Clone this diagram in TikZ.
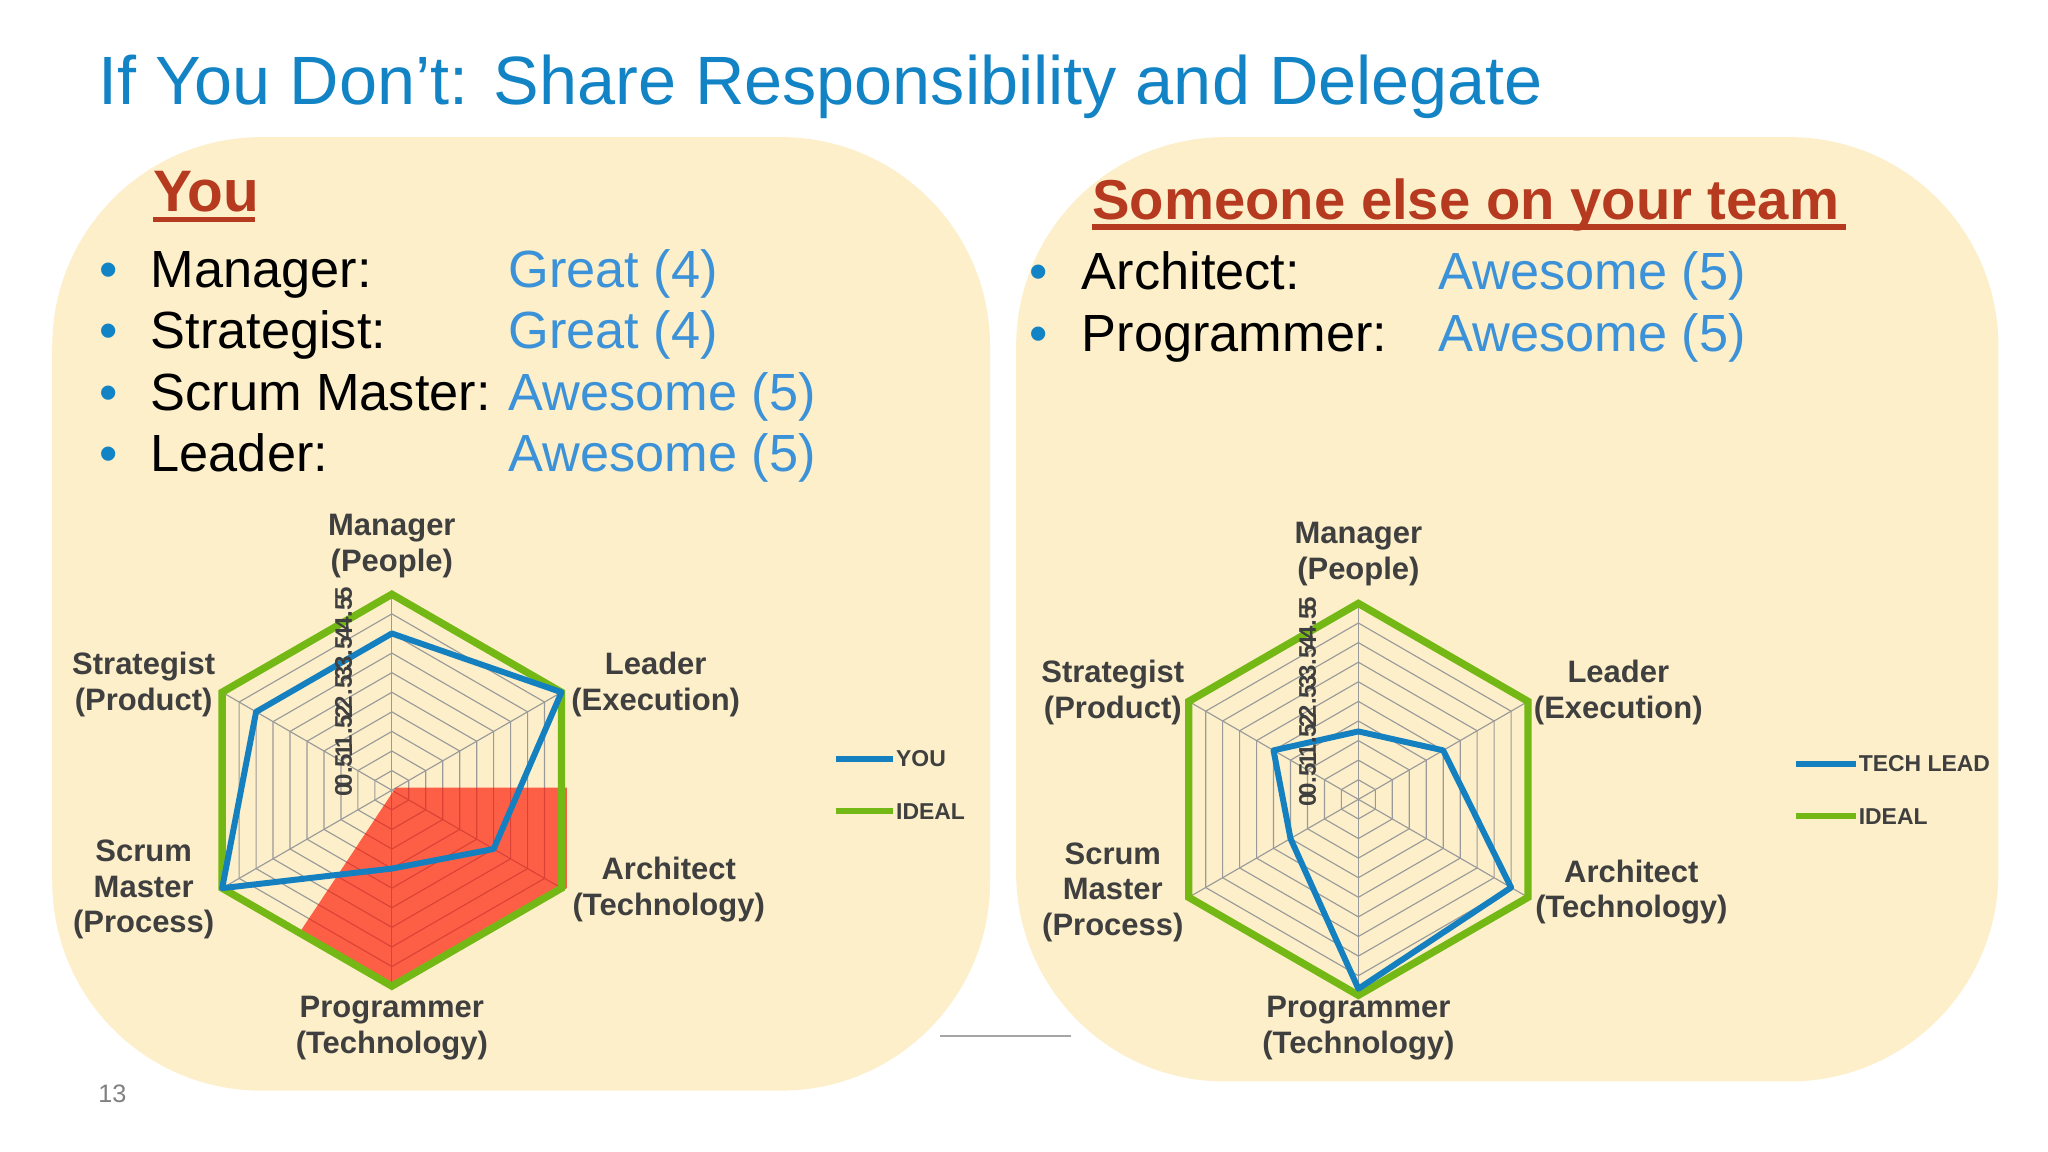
\documentclass[tikz,border=0pt]{standalone}
\usepackage{fontspec}
\setmainfont{Liberation Sans}
\begin{document}
\begin{tikzpicture}[x=0.02cm,y=-0.02cm,
  bul/.style={anchor=base west,font=\fontsize{22.8}{26}\selectfont},
  val/.style={anchor=base west,font=\fontsize{22.8}{26}\selectfont,text=valc},
  dot/.style={anchor=base west,font=\fontsize{22.8}{26}\selectfont,text=titlec},
  lab/.style={font=\fontsize{13.5}{15.5}\selectfont\bfseries,text=labc,align=center},
  tick/.style={font=\fontsize{10.5}{10.5}\selectfont\bfseries,rotate=90,text=labc,inner sep=0pt},
  grid/.style={draw=gridc,line width=0.5pt},
  ideal/.style={draw=idealc,line width=3.2pt,line join=miter},
  actual/.style={draw=blc,line width=2.6pt,line join=round},
  leg/.style={anchor=west,font=\fontsize{10}{10}\selectfont\bfseries,text=labc,inner sep=1pt}]
\definecolor{panelc}{HTML}{FCEFC9}
\definecolor{titlec}{HTML}{1283C4}
\definecolor{valc}{HTML}{3C92D8}
\definecolor{headc}{HTML}{B63A1F}
\definecolor{labc}{HTML}{3F3F3F}
\definecolor{gridc}{HTML}{9A9A9A}
\definecolor{idealc}{HTML}{74B816}
\definecolor{blc}{HTML}{1480C0}
\useasboundingbox (0,0) rectangle (1568,882);
\fill[white] (0,0) rectangle (1568,882);
\node[anchor=base west,inner sep=0pt,text=titlec,font=\fontsize{29.8}{33}\selectfont] (title) at (75,80) {If You Don’t: Share Responsibility and Delegate};
\draw[gray!70,line width=1pt] (720,793) -- (820,793);
\fill[panelc,rounded corners=3.2cm] (40,105) rectangle (758,835);
\fill[panelc,rounded corners=3.2cm] (778,105) rectangle (1530,828);
\node[anchor=base west,inner sep=0pt,text=gray,font=\fontsize{11}{12}\selectfont] (pg) at (75,844) {13};
% headings
\node[anchor=base west,inner sep=0pt,text=headc,font=\fontsize{25.5}{28}\selectfont\bfseries] (h1) at (117,162) {You};
\draw[headc,line width=2.5pt] (117,168) -- (195,168);
\node[anchor=base west,inner sep=0pt,text=headc,font=\fontsize{24.5}{28}\selectfont\bfseries] (h2) at (836,168) {Someone else on your team};
\draw[headc,line width=2.5pt] (836,174) -- (1413,174);
% bullets left
\foreach \y/\a/\b in {220/Manager:/Great (4),267/Strategist:/Great (4),314/Scrum Master:/Awesome (5),361/Leader:/Awesome (5)}{
  \node[dot,inner sep=0pt] at (76,\y) {•};
  \node[bul,inner sep=0pt] at (115,\y) {\a};
  \node[val,inner sep=0pt] at (389,\y) {\b};
}
\foreach \y/\a/\b in {222/Architect:/Awesome (5),269/Programmer:/Awesome (5)}{
  \node[dot,inner sep=0pt] at (788,\y) {•};
  \node[bul,inner sep=0pt] at (828,\y) {\a};
  \node[val,inner sep=0pt] at (1101,\y) {\b};
}
% radar grids
\foreach \cx/\cy in {300/605,1040/612}{
 \begin{scope}[shift={(\cx,\cy)}]
  \foreach \r in {15,30,...,150}
    \draw[grid] (90:\r) -- (30:\r) -- (-30:\r) -- (-90:\r) -- (-150:\r) -- (150:\r) -- cycle;
  \foreach \a in {90,30,-30,-90,-150,150} \draw[grid] (0,0) -- (\a:150);
 \end{scope}
}
% red overlay
\fill[red!85!orange,opacity=0.65] (303,603) -- (434,603) -- (434,680) -- (300,755) -- (230,713) -- cycle;
\begin{scope}[shift={(300,605)},y=0.02cm]
  \draw[ideal] (90:150) -- (30:150) -- (-30:150) -- (-90:150) -- (-150:150) -- (150:150) -- cycle;
  \draw[actual] (90:120) -- (30:150) -- (-30:90) -- (-90:60) -- (-150:150) -- (150:120) -- cycle;
  \foreach \v/\t in {0/0,1/0.5,2/1,3/1.5,4/2,5/2.5,6/3,7/3.5,8/4,9/4.5,10/5}
    \node[tick,anchor=south] at (-30,{\v*15}) {\t};
\end{scope}
\begin{scope}[shift={(1040,612)},y=0.02cm]
  \draw[ideal] (90:150) -- (30:150) -- (-30:150) -- (-90:150) -- (-150:150) -- (150:150) -- cycle;
  \draw[actual] (90:52) -- (30:75) -- (-30:135) -- (-90:145) -- (-150:60) -- (150:75) -- cycle;
  \foreach \v/\t in {0/0,1/0.5,2/1,3/1.5,4/2,5/2.5,6/3,7/3.5,8/4,9/4.5,10/5}
    \node[tick,anchor=south] at (-32,{\v*15}) {\t};
\end{scope}
% axis labels left
\node[lab] (lm) at (300,418) {Manager\\(People)};
\node[lab] (ll) at (502,524) {Leader\\(Execution)};
\node[lab] (la) at (512,681) {Architect\\(Technology)};
\node[lab] (lp) at (300,787) {Programmer\\(Technology)};
\node[lab] (ls) at (110,681) {Scrum\\Master\\(Process)};
\node[lab] (lt) at (110,524) {Strategist\\(Product)};
% axis labels right
\node[lab] (rm) at (1040,424) {Manager\\(People)};
\node[lab] (rl) at (1239,530) {Leader\\(Execution)};
\node[lab] (ra) at (1249,683) {Architect\\(Technology)};
\node[lab] (rp) at (1040,787) {Programmer\\(Technology)};
\node[lab] (rs) at (852,683) {Scrum\\Master\\(Process)};
\node[lab] (rt) at (852,530) {Strategist\\(Product)};
% legends
\coordinate (a1) at (640,581); \coordinate (a2) at (640,621);
\node[leg] (ly) at (684,581) {YOU};
\node[leg] (li) at (684,621) {IDEAL};
\draw[blc,line width=2.5pt] (a1) -- (ly.west);
\draw[idealc,line width=2.5pt] (a2) -- (li.west);
\coordinate (b1) at (1375,585); \coordinate (b2) at (1375,625);
\node[leg] (lt2) at (1421,585) {TECH LEAD};
\node[leg] (li2) at (1421,625) {IDEAL};
\draw[blc,line width=2.5pt] (b1) -- (lt2.west);
\draw[idealc,line width=2.5pt] (b2) -- (li2.west);
\end{tikzpicture}
\end{document}
